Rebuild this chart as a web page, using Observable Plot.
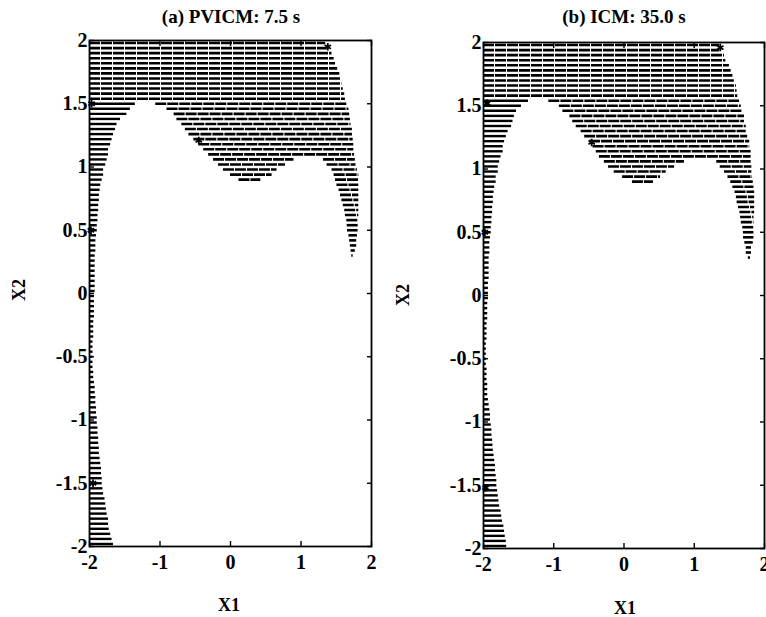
<!DOCTYPE html>
<html>
<head>
<meta charset="utf-8">
<script src="https://cdn.jsdelivr.net/npm/d3@7"></script>
<script src="https://cdn.jsdelivr.net/npm/@observablehq/plot@0.6"></script>
<style>
  html, body { margin: 0; padding: 0; background: #fff; }
  #root { position: relative; width: 766px; height: 617px; overflow: hidden; font-family: "Liberation Serif", "Times New Roman", serif; font-weight: bold; color: #000; }
  .panel { position: absolute; top: 0; }
  .lbl { position: absolute; white-space: nowrap; line-height: 1; font-weight: bold; }
</style>
</head>
<body>
<div id="root"></div>
<script>
// ---------- data ----------
const titles = ["(a) PVICM: 7.5 s", "(b) ICM: 35.0 s"];
const xLabel = "X1";
const yLabel = "X2";
const xTicks = [-2, -1, 0, 1, 2];
const yTicks = [-2, -1.5, -1, -0.5, 0, 0.5, 1, 1.5, 2];

// Panel (a): hatch segments of the upper band [x2 level, x1 start, x1 end]
const bandA = [
  [1.98,-2,1.35],[1.94,-2,1.37],[1.90,-2,1.44],[1.86,-2,1.47],[1.82,-2,1.49],
  [1.78,-2,1.52],[1.74,-2,1.55],[1.70,-2,1.56],[1.66,-2,1.58],[1.62,-2,1.60],
  [1.58,-2,1.62],[1.54,-2,1.63],
  [1.50,-1.06,1.655],[1.46,-0.90,1.68],[1.42,-0.80,1.69],[1.38,-0.76,1.70],
  [1.34,-0.69,1.71],[1.30,-0.64,1.73],[1.26,-0.59,1.73],[1.22,-0.52,1.74],
  [1.18,-0.45,1.75],[1.14,-0.38,1.75],[1.10,-0.31,1.76],
  [1.06,-0.24,0.90],[1.06,1.32,1.77],
  [1.02,-0.17,0.78],[1.02,1.37,1.78],
  [0.98,-0.10,0.66],[0.98,1.44,1.80],
  [0.94,0.00,0.59],[0.94,1.47,1.82],
  [0.90,0.12,0.43],[0.90,1.49,1.82],
  [0.86,1.51,1.82],[0.82,1.54,1.82],[0.78,1.56,1.82],[0.74,1.58,1.82],
  [0.70,1.60,1.82],[0.66,1.62,1.82],[0.62,1.63,1.82],[0.58,1.65,1.82],
  [0.54,1.655,1.82],[0.50,1.66,1.81],[0.46,1.68,1.80],[0.42,1.69,1.79],
  [0.38,1.70,1.79],[0.34,1.71,1.77],[0.30,1.72,1.74]
];
// Panel (a): left strip, rows starting at x1 = -2 [x2 level, x1 end]
const stripA = [
  [1.50,-1.35],[1.46,-1.42],[1.42,-1.47],[1.38,-1.56],[1.34,-1.61],[1.30,-1.63],
  [1.26,-1.66],[1.22,-1.68],[1.18,-1.70],[1.14,-1.73],[1.10,-1.73],[1.06,-1.75],
  [1.02,-1.77],[0.98,-1.80],[0.94,-1.80],[0.90,-1.82],[0.86,-1.84],[0.82,-1.85],
  [0.78,-1.86],[0.74,-1.86],[0.70,-1.87],[0.66,-1.87],[0.62,-1.88],[0.58,-1.88],
  [0.54,-1.89],[0.50,-1.89],[0.46,-1.90],[0.42,-1.91],[0.38,-1.91],[0.34,-1.91],
  [0.30,-1.92],[0.26,-1.92],[0.22,-1.92],[0.18,-1.92],[0.14,-1.92],[0.10,-1.92],
  [0.06,-1.92],[0.02,-1.92],[-0.02,-1.93],[-0.06,-1.93],[-0.10,-1.93],[-0.14,-1.93],
  [-0.18,-1.93],[-0.22,-1.94],[-0.26,-1.94],[-0.30,-1.94],[-0.34,-1.94],[-0.38,-1.95],
  [-0.42,-1.95],[-0.46,-1.95],[-0.50,-1.95],[-0.54,-1.95],[-0.58,-1.95],[-0.62,-1.94],
  [-0.66,-1.94],[-0.70,-1.93],[-0.74,-1.92],[-0.78,-1.92],[-0.82,-1.91],[-0.86,-1.91],
  [-0.90,-1.90],[-0.94,-1.90],[-0.98,-1.89],[-1.02,-1.89],[-1.06,-1.88],[-1.10,-1.88],
  [-1.14,-1.87],[-1.18,-1.87],[-1.22,-1.86],[-1.26,-1.86],[-1.30,-1.85],[-1.34,-1.84],
  [-1.38,-1.83],[-1.42,-1.83],[-1.46,-1.82],[-1.50,-1.82],[-1.54,-1.81],[-1.58,-1.80],
  [-1.62,-1.78],[-1.66,-1.77],[-1.70,-1.76],[-1.74,-1.75],[-1.78,-1.73],[-1.82,-1.73],
  [-1.86,-1.72],[-1.90,-1.70],[-1.94,-1.68],[-1.98,-1.66]
];
const marksA = [[1.38,1.95],[-1.97,1.50],[-0.45,1.21],[-1.98,0.50],[-1.95,-1.50]];

// Panel (b)
const bandB = [
  [1.98,-2,1.36],[1.94,-2,1.36],[1.90,-2,1.43],[1.86,-2,1.45],[1.82,-2,1.50],
  [1.78,-2,1.525],[1.74,-2,1.55],[1.70,-2,1.57],[1.66,-2,1.60],[1.62,-2,1.61],
  [1.58,-2,1.62],
  [1.54,-1.07,1.645],[1.50,-0.92,1.67],[1.46,-0.87,1.69],[1.42,-0.77,1.715],
  [1.38,-0.73,1.715],[1.34,-0.68,1.74],[1.30,-0.61,1.74],[1.26,-0.56,1.76],
  [1.22,-0.49,1.79],[1.18,-0.44,1.79],[1.14,-0.395,1.81],[1.10,-0.35,1.81],
  [1.06,-0.28,0.86],[1.06,1.32,1.81],
  [1.02,-0.22,0.72],[1.02,1.37,1.82],
  [0.98,-0.14,0.60],[0.98,1.43,1.82],
  [0.94,-0.02,0.52],[0.94,1.48,1.83],
  [0.90,0.12,0.42],[0.90,1.52,1.84],
  [0.86,1.55,1.85],[0.82,1.58,1.86],[0.78,1.60,1.86],[0.74,1.61,1.86],
  [0.70,1.63,1.86],[0.66,1.65,1.86],[0.62,1.66,1.85],[0.58,1.67,1.85],
  [0.54,1.69,1.85],[0.50,1.70,1.85],[0.46,1.70,1.85],[0.42,1.72,1.84],
  [0.38,1.74,1.815],[0.34,1.74,1.815],[0.30,1.77,1.80]
];
const stripB = [
  [1.54,-1.36],[1.50,-1.46],[1.46,-1.53],[1.42,-1.56],[1.38,-1.58],[1.34,-1.60],
  [1.30,-1.65],[1.26,-1.675],[1.22,-1.70],[1.18,-1.72],[1.14,-1.72],[1.10,-1.75],
  [1.06,-1.77],[1.02,-1.79],[0.98,-1.79],[0.94,-1.82],[0.90,-1.82],[0.86,-1.84],
  [0.82,-1.85],[0.78,-1.86],[0.74,-1.86],[0.70,-1.87],[0.66,-1.87],[0.62,-1.88],
  [0.58,-1.88],[0.54,-1.89],[0.50,-1.89],[0.46,-1.90],[0.42,-1.91],[0.38,-1.91],
  [0.34,-1.91],[0.30,-1.92],[0.26,-1.92],[0.22,-1.92],[0.18,-1.92],[0.14,-1.92],
  [0.10,-1.93],[0.06,-1.93],[0.02,-1.93],[-0.02,-1.93],[-0.06,-1.94],[-0.10,-1.94],
  [-0.14,-1.94],[-0.18,-1.94],[-0.22,-1.95],[-0.26,-1.95],[-0.30,-1.95],[-0.34,-1.95],
  [-0.38,-1.96],[-0.42,-1.96],[-0.46,-1.96],[-0.50,-1.96],[-0.54,-1.96],[-0.58,-1.95],
  [-0.62,-1.95],[-0.66,-1.95],[-0.70,-1.94],[-0.74,-1.94],[-0.78,-1.94],[-0.82,-1.93],
  [-0.86,-1.92],[-0.90,-1.91],[-0.94,-1.90],[-0.98,-1.90],[-1.02,-1.89],[-1.06,-1.88],
  [-1.10,-1.88],[-1.14,-1.87],[-1.18,-1.865],[-1.22,-1.86],[-1.26,-1.85],[-1.30,-1.84],
  [-1.34,-1.83],[-1.38,-1.83],[-1.42,-1.82],[-1.46,-1.81],[-1.50,-1.81],[-1.54,-1.80],
  [-1.58,-1.79],[-1.62,-1.78],[-1.66,-1.77],[-1.70,-1.75],[-1.74,-1.74],[-1.78,-1.73],
  [-1.82,-1.71],[-1.86,-1.70],[-1.90,-1.69],[-1.94,-1.675],[-1.98,-1.67]
];
const marksB = [[1.37,1.96],[-1.95,1.52],[-0.46,1.21],[-1.98,0.50],[-1.97,-1.52]];

// ---------- drawing ----------
const root = document.getElementById("root");
const fmt = d => String(d);

function panel(band, strip, marks, o) {
  return Plot.plot({
    width: o.width, height: 617,
    marginLeft: o.ml, marginRight: o.mr, marginTop: o.mt, marginBottom: o.mb,
    x: {domain: [-2, 2]},
    y: {domain: [-2, 2]},
    style: {fontFamily: '"Liberation Serif", "Times New Roman", serif', fontWeight: "bold", fontSize: "20px", color: "#000", background: "transparent"},
    marks: [
      Plot.ruleY(band, {y: d => d[0], x1: d => d[1], x2: d => d[2], stroke: "#000", strokeWidth: 2.6, strokeDasharray: "11,1"}),
      Plot.ruleY(strip, {y: d => d[0], x1: () => -2, x2: d => d[1], stroke: "#000", strokeWidth: 2.4}),
      Plot.dot(marks, {x: d => d[0], y: d => d[1], symbol: "asterisk", r: 3.5, stroke: "#000", strokeWidth: 1.8}),
      Plot.axisX(xTicks, {anchor: "bottom", tickSize: -5, tickPadding: 13, tickFormat: fmt, label: null, strokeWidth: 1.4}),
      Plot.axisX(xTicks, {anchor: "top", tickSize: -5, fill: "none", label: null, strokeWidth: 1.4}),
      Plot.axisY(yTicks, {anchor: "left", tickSize: -5, tickPadding: 7, tickFormat: fmt, label: null, strokeWidth: 1.4}),
      Plot.axisY(yTicks, {anchor: "right", tickSize: -5, fill: "none", label: null, strokeWidth: 1.4}),
      Plot.frame({stroke: "#000", strokeWidth: 1.8})
    ]
  });
}

const cfg = [
  {left: 0, width: 383, ml: 89, mr: 12, mt: 40, mb: 71, band: bandA, strip: stripA, marks: marksA,
   title: [231, 7], xl: [229, 596], yl: [19, 290]},
  {left: 383, width: 383, ml: 100, mr: 2, mt: 42, mb: 69, band: bandB, strip: stripB, marks: marksB,
   title: [624, 7], xl: [625, 599], yl: [403, 295]}
];

cfg.forEach((c, i) => {
  const wrap = document.createElement("div");
  wrap.className = "panel";
  wrap.style.left = c.left + "px";
  wrap.appendChild(panel(c.band, c.strip, c.marks, c));
  root.appendChild(wrap);

  const t = document.createElement("div");
  t.className = "lbl";
  t.textContent = titles[i];
  t.style.fontSize = "19px";
  t.style.left = c.title[0] + "px";
  t.style.top = c.title[1] + "px";
  t.style.transform = "translateX(-50%)";
  root.appendChild(t);

  const xl = document.createElement("div");
  xl.className = "lbl";
  xl.textContent = xLabel;
  xl.style.fontSize = "18px";
  xl.style.left = c.xl[0] + "px";
  xl.style.top = c.xl[1] + "px";
  xl.style.transform = "translateX(-50%)";
  root.appendChild(xl);

  const yl = document.createElement("div");
  yl.className = "lbl";
  yl.textContent = yLabel;
  yl.style.fontSize = "18px";
  yl.style.left = c.yl[0] + "px";
  yl.style.top = c.yl[1] + "px";
  yl.style.transform = "translate(-50%,-50%) rotate(-90deg)";
  root.appendChild(yl);
});
</script>
</body>
</html>
